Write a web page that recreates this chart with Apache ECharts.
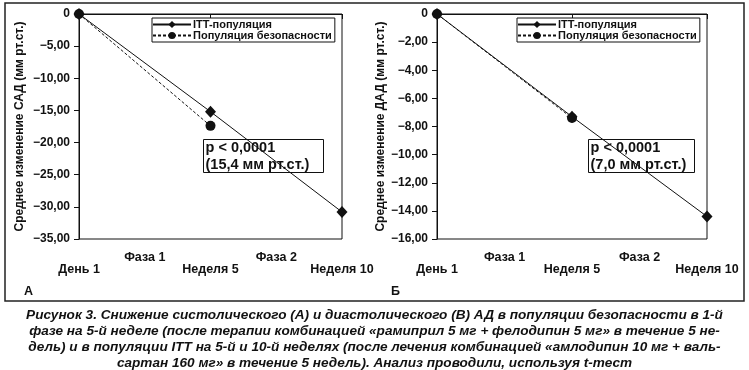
<!DOCTYPE html>
<html><head><meta charset="utf-8">
<script src="https://cdn.jsdelivr.net/npm/echarts@6/dist/echarts.min.js"></script>
<style>html,body{margin:0;padding:0;background:#fff}#c{width:749px;height:370px}</style>
</head><body><div id="c"></div>
<script>
const categories = ['День 1', 'Неделя 5', 'Неделя 10'];
const phases = ['Фаза 1', 'Фаза 2'];
const sadITT = [0, -15.2, -30.8];
const sadSafety = [0, -17.4];
const dadITT = [0, -7.3, -14.4];
const dadSafety = [0, -7.4];
const seriesNames = ['ITT-популяция', 'Популяция безопасности'];
const yNames = ['Среднее изменение САД (мм рт.ст.)', 'Среднее изменение ДАД (мм рт.ст.)'];
const annotA = ['p < 0,0001', '(15,4 мм рт.ст.)'];
const annotB = ['p < 0,0001', '(7,0 мм рт.ст.)'];
const panelLabels = ['А', 'Б'];
const captionLines = [
  'Рисунок 3. Снижение систолического (А) и диастолического (В) АД в популяции безопасности в 1-й',
  'фазе на 5-й неделе (после терапии комбинацией «рамиприл 5 мг + фелодипин 5 мг» в течение 5 не-',
  'дель) и в популяции ITT на 5-й и 10-й неделях (после лечения комбинацией «амлодипин 10 мг + валь-',
  'сартан 160 мг» в течение 5 недель). Анализ проводили, используя t-тест'
];

const FF = "'Liberation Sans', Arial, sans-serif";
const fmt = v => v === 0 ? '0' : v.toFixed(2).replace('.', ',').replace('-', '\u2212');

const chart = echarts.init(document.getElementById('c'), null, {renderer: 'canvas'});

function yAxis(gi, min, interval, name, gap) {
  return {
    type: 'value', gridIndex: gi, min: min, max: 0, interval: interval,
    name: name, nameLocation: 'middle', nameGap: gap, nameRotate: 90,
    nameTextStyle: {fontFamily: FF, fontWeight: 'bold', fontSize: 12, color: '#111'},
    axisLine: {show: true, lineStyle: {color: '#111', width: 1}},
    axisTick: {show: true, length: 5, lineStyle: {color: '#111'}},
    splitLine: {show: false},
    axisLabel: {formatter: fmt, fontFamily: FF, fontWeight: 'bold', fontSize: 12, color: '#111', margin: 9}
  };
}
function xAxes(gi) {
  return [{
    type: 'category', gridIndex: gi, data: categories, boundaryGap: false, position: 'bottom',
    axisLine: {show: true, lineStyle: {color: '#111', width: 1}},
    axisTick: {show: true, length: 5, lineStyle: {color: '#111'}},
    axisLabel: {fontFamily: FF, fontWeight: 'bold', fontSize: 12.5, color: '#111', margin: 24, interval: 0}
  }, {
    type: 'category', gridIndex: gi, data: phases, boundaryGap: true, position: 'bottom',
    axisLine: {show: false}, axisTick: {show: false},
    axisLabel: {fontFamily: FF, fontWeight: 'bold', fontSize: 12.5, color: '#111', margin: 12, interval: 0}
  }];
}
function lineSeries(xi, yi, name, data, dashed, symbol, size) {
  return {
    type: 'line', name: name, xAxisIndex: xi, yAxisIndex: yi, data: data,
    symbol: symbol, symbolSize: size, showSymbol: true,
    lineStyle: {color: '#111', width: 1, type: dashed ? [3, 2] : 'solid'},
    itemStyle: {color: '#111'}, emphasis: {disabled: true}, animation: false
  };
}
function legend(left) {
  return {
    left: left, top: 18, orient: 'vertical', data: seriesNames,
    borderColor: '#111', borderWidth: 1, padding: [1, 3, 1, 0], itemGap: 0,
    itemWidth: 38, itemHeight: 9, selectedMode: false, backgroundColor: '#fff',
    textStyle: {fontFamily: FF, fontWeight: 'bold', fontSize: 11, color: '#111', padding: [0, 0, 0, -3]}
  };
}
function annot(x, y, w, lines) {
  return {
    type: 'group', left: x, top: y, z: 100,
    children: [
      {type: 'rect', shape: {x: 0, y: 0, width: w, height: 33}, style: {fill: '#fff', stroke: '#111', lineWidth: 1}},
      {type: 'text', x: 2, y: 0, style: {text: lines.join('\n'), font: "bold 14.5px " + FF, fill: '#111', lineHeight: 17}}
    ]
  };
}

const option = {
  backgroundColor: '#fff',
  animation: false,
  grid: [
    {left: 79, right: 407, top: 14, bottom: 131, show: true, borderColor: '#111', borderWidth: 1, containLabel: false},
    {left: 437, right: 42, top: 14, bottom: 131, show: true, borderColor: '#111', borderWidth: 1, containLabel: false}
  ],
  xAxis: [...xAxes(0), ...xAxes(1)],
  yAxis: [yAxis(0, -35, 5, yNames[0], 53), yAxis(1, -16, 2, yNames[1], 48)],
  legend: [legend(152), legend(517)],
  series: [
    lineSeries(0, 0, seriesNames[0], sadITT, false, 'diamond', [11, 12]),
    lineSeries(0, 0, seriesNames[1], sadSafety, true, 'circle', 10),
    lineSeries(2, 1, seriesNames[0], dadITT, false, 'diamond', [11, 12]),
    lineSeries(2, 1, seriesNames[1], dadSafety, true, 'circle', 10)
  ],
  graphic: [
    {type: 'rect', shape: {x: 5, y: 3, width: 739, height: 298}, style: {fill: 'none', stroke: '#222', lineWidth: 1.5}, z: 0},
    annot(203, 139, 120, annotA),
    annot(588, 139, 106, annotB),
    {type: 'text', left: 24, top: 285, style: {text: panelLabels[0], font: "bold 12.5px " + FF, fill: '#111'}},
    {type: 'text', left: 391, top: 285, style: {text: panelLabels[1], font: "bold 12.5px " + FF, fill: '#111'}},
    ...captionLines.map((t, i) => ({
      type: 'text', x: 374.5, y: 315 + i * 16,
      style: {text: t, font: "italic bold 13.6px 'Liberation Sans Narrow', 'Liberation Sans', Arial, sans-serif",
              fill: '#111', align: 'center', verticalAlign: 'middle'}
    }))
  ]
};
chart.setOption(option);
</script>
</body></html>
